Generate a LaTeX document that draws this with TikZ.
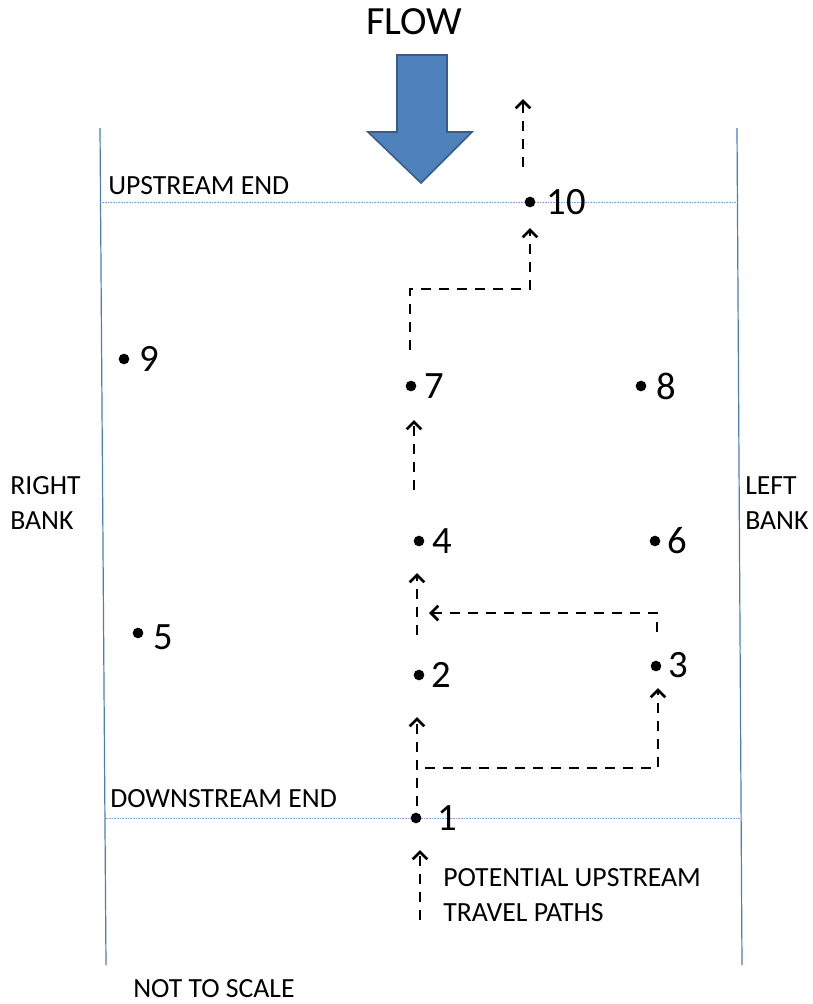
\documentclass[tikz,border=0pt]{standalone}
\usepackage{fontspec}
\setmainfont{Carlito}
\usetikzlibrary{arrows.meta,positioning,calc}
\definecolor{FlowFill}{HTML}{4F81BD}
\definecolor{FlowEdge}{HTML}{385D8A}
\definecolor{Bank}{HTML}{4A7EBB}
\definecolor{EndLine}{HTML}{7FA3D6}
\tikzset{
  dot/.style={circle,fill=black,inner sep=0pt,minimum size=8pt},
  num/.style={anchor=west,inner sep=0pt,font=\fontsize{29}{30}\selectfont},
  note/.style={anchor=west,inner sep=0pt,align=left,font=\fontsize{20.8}{26}\selectfont},
  bankline/.style={draw=Bank,line width=0.9pt},
  endline/.style={draw=EndLine,line width=0.6pt,dash pattern=on 0.8pt off 0.4pt},
  travel/.style={-{Straight Barb[length=5.5pt,width=11pt]},line width=2pt,dash pattern=on 7.5pt off 6pt}
}
\begin{document}
\begin{tikzpicture}[x=0.75pt,y=-0.75pt]
  \useasboundingbox (0,0) rectangle (813,1004);
  % banks and reach ends
  \draw[bankline] (100,128) -- (106,965);
  \draw[bankline] (737,128) -- (742,965);
  \draw[endline] (100,202) -- (737,202);
  \draw[endline] (104,818) -- (740,818);
  % flow arrow
  \node[inner sep=0pt,font=\fontsize{30}{32}\selectfont] (flow) at (414,22) {FLOW};
  \draw[FlowEdge,fill=FlowFill,line width=1.2pt,line join=miter]
    (397,55) -- (447,55) -- (447,132) -- (472,132) -- (421,183) -- (368,132) -- (397,132) -- cycle;
  % text
  \node[note] (up) at (108,186) {UPSTREAM END};
  \node[note] (down) at (110,799) {DOWNSTREAM END};
  \node[note] (rb) at (10,503) {RIGHT\\BANK};
  \node[note] (lb) at (745,503) {LEFT\\BANK};
  \node[note] (legend) at (443,895) {POTENTIAL UPSTREAM\\TRAVEL PATHS};
  \node[note] (scale) at (133,989) {NOT TO SCALE};
  % points
  \node[dot] (p1) at (416,818) {};
  \node[dot] (p2) at (419,675) {};
  \node[dot] (p3) at (656,666) {};
  \node[dot] (p4) at (419,541) {};
  \node[dot] (p5) at (138,633) {};
  \node[dot] (p6) at (655,541) {};
  \node[dot] (p7) at (411,386) {};
  \node[dot] (p8) at (641,386) {};
  \node[dot] (p9) at (124,359) {};
  \node[dot] (p10) at (530,202) {};
  \node[num,right=12pt of p1] (n1) {1};
  \node[num,right=5pt of p2] (n2) {2};
  \node[num,right=5pt of p3,yshift=1pt] (n3) {3};
  \node[num,right=6pt of p4] (n4) {4};
  \node[num,right=7pt of p5,yshift=-3pt] (n5) {5};
  \node[num,right=5pt of p6] (n6) {6};
  \node[num,right=6pt of p7] (n7) {7};
  \node[num,right=7pt of p8] (n8) {8};
  \node[num,right=7pt of p9] (n9) {9};
  \node[num,right=8pt of p10] (n10) {10};
  % travel paths
  \coordinate (s1) at (417,806);
  \coordinate (t2) at (417,717);
  \coordinate (b1) at (425,768);
  \coordinate (t3) at (658,688);
  \coordinate (s3) at (657,632);
  \coordinate (c3) at (657,613);
  \coordinate (t24) at (429,613);
  \coordinate (s2) at (417,635);
  \coordinate (t4) at (417,573);
  \coordinate (s4) at (414,490);
  \coordinate (t7) at (414,420);
  \coordinate (s7) at (410,350);
  \coordinate (c7) at (530,289);
  \coordinate (t10) at (530,228);
  \coordinate (s10) at (523,167);
  \coordinate (e10) at (523,99);
  \coordinate (ls) at (420,920);
  \coordinate (le) at (420,850);
  \draw[travel] (s1) -- (t2);
  \draw[travel] (b1) -| (t3);
  \draw[travel] (s3) -- (c3) -- (t24);
  \draw[travel] (s2) -- (t4);
  \draw[travel] (s4) -- (t7);
  \draw[travel] (s7) |- (c7) -- (t10);
  \draw[travel] (s10) -- (e10);
  \draw[travel] (ls) -- (le);
\end{tikzpicture}
\end{document}
